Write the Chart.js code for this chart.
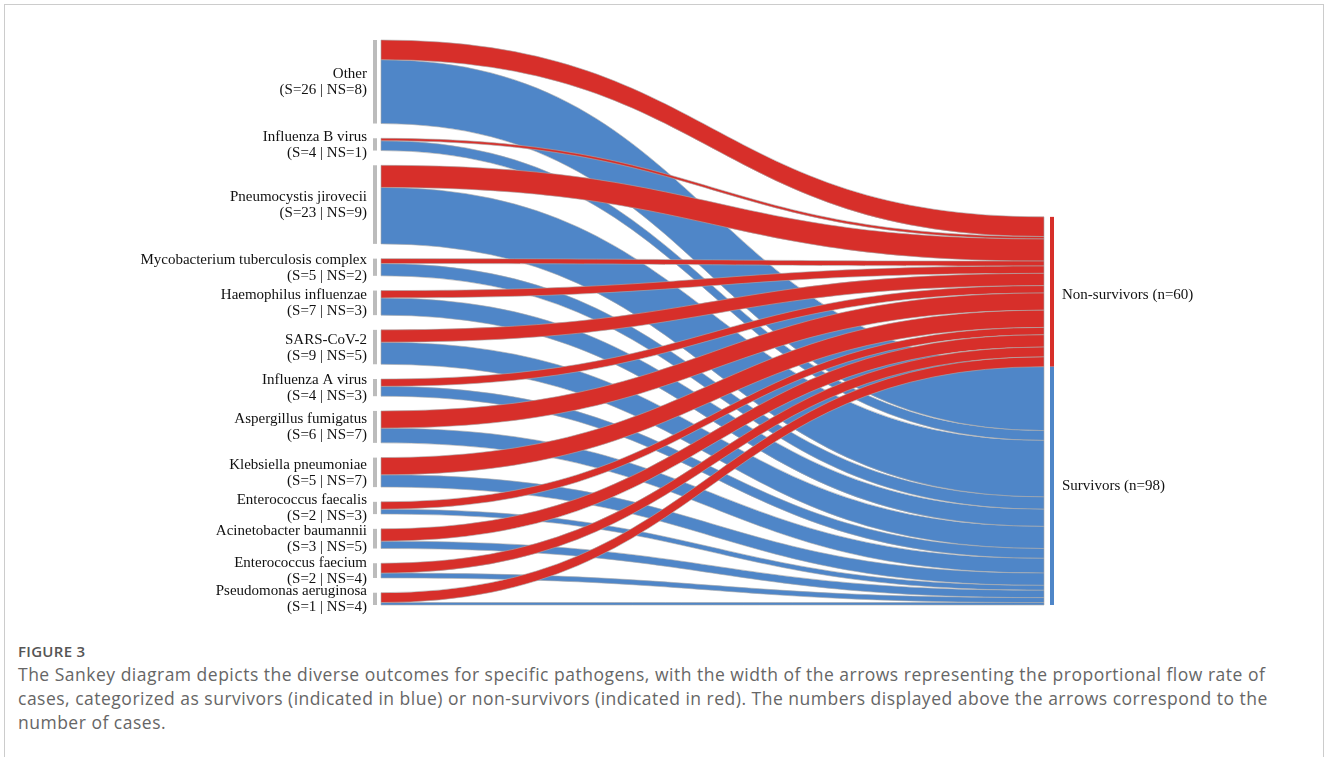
<!DOCTYPE html>
<html>
<head>
<meta charset="utf-8">
<script src="https://cdn.jsdelivr.net/npm/chart.js@4.4.1/dist/chart.umd.min.js"></script>
<style>
  html, body { margin: 0; padding: 0; background: #fff; }
  body { width: 1328px; height: 757px; position: relative; overflow: hidden; }
  #frame { position: absolute; left: 4px; top: 4px; width: 1320px; height: 800px;
           border: 1.5px solid #cccccc; border-bottom: none; box-sizing: border-box; }
  #wrap { position: absolute; left: 0; top: 0; width: 1328px; height: 640px; }
  #caption { position: absolute; left: 18px; top: 640px; font-family: "Open Sans", sans-serif; white-space: nowrap; }
  #caption .fig { font-size: 15px; font-weight: 600; color: #555; line-height: 22px; letter-spacing: 0.3px; }
  #caption .txt { font-size: 17.5px; color: #666; line-height: 24px; letter-spacing: 0.5px; }
</style>
</head>
<body>
<div id="frame"></div>
<div id="wrap"><canvas id="sankey" width="1328" height="640"></canvas></div>
<div id="caption">
  <div class="fig">FIGURE 3</div>
  <div class="txt">The Sankey diagram depicts the diverse outcomes for specific pathogens, with the width of the arrows representing the proportional flow rate of<br>cases, categorized as survivors (indicated in blue) or non-survivors (indicated in red). The numbers displayed above the arrows correspond to the<br>number of cases.</div>
</div>
<script>
// pathogens (left nodes), top to bottom
var pathogens = ['Other', 'Influenza B virus', 'Pneumocystis jirovecii', 'Mycobacterium tuberculosis complex',
  'Haemophilus influenzae', 'SARS-CoV-2', 'Influenza A virus', 'Aspergillus fumigatus',
  'Klebsiella pneumoniae', 'Enterococcus faecalis', 'Acinetobacter baumannii',
  'Enterococcus faecium', 'Pseudomonas aeruginosa'];
var survivors    = [26, 4, 23, 5, 7, 9, 4, 6, 5, 2, 3, 2, 1];
var nonSurvivors = [8, 1, 9, 2, 3, 5, 3, 7, 7, 3, 5, 4, 4];
var outcomeLabels = ['Non-survivors (n=60)', 'Survivors (n=98)'];

var RED = '#d72f2a';
var BLUE = '#4f86c8';
var GAP = 6; // gap between left nodes, in case units

var total = 0;
for (var i = 0; i < pathogens.length; i++) total += survivors[i] + nonSurvivors[i];
var yMax = total + GAP * (pathogens.length - 1);

function flow(ctx, x0, x1, a0, a1, b0, b1, color) {
  var xm = (x0 + x1) / 2;
  ctx.beginPath();
  ctx.moveTo(x0, a0);
  ctx.bezierCurveTo(xm, a0, xm, a1, x1, a1);
  ctx.lineTo(x1, b1);
  ctx.bezierCurveTo(xm, b1, xm, b0, x0, b0);
  ctx.closePath();
  ctx.fillStyle = color;
  ctx.fill();
  ctx.lineWidth = 0.8;
  ctx.strokeStyle = 'rgba(170,170,170,0.75)';
  ctx.stroke();
}

var sankeyPlugin = {
  id: 'sankey',
  afterDatasetsDraw: function (chart) {
    var ctx = chart.ctx;
    var xs = chart.scales.x, ys = chart.scales.y;
    var xL = xs.getPixelForValue(0), xR = xs.getPixelForValue(1);
    var fx0 = xL + 8, fx1 = xR - 10;
    var nsTotal = 0;
    for (var i = 0; i < nonSurvivors.length; i++) nsTotal += nonSurvivors[i];
    var rightTop = yMax - total;

    // left node positions and link positions
    var links = [];
    var cur = 0, nsCur = rightTop, sCur = rightTop + nsTotal;
    var nodes = [];
    for (i = 0; i < pathogens.length; i++) {
      var n = survivors[i] + nonSurvivors[i];
      nodes.push({ top: cur, bot: cur + n });
      links.push({ s0: cur, s1: cur + nonSurvivors[i], t0: nsCur, t1: nsCur + nonSurvivors[i], c: RED });
      links.push({ s0: cur + nonSurvivors[i], s1: cur + n, t0: sCur, t1: sCur + survivors[i], c: BLUE });
      nsCur += nonSurvivors[i];
      sCur += survivors[i];
      cur += n + GAP;
    }

    ctx.save();
    // blue first, red on top
    [BLUE, RED].forEach(function (col) {
      links.forEach(function (l) {
        if (l.c !== col) return;
        flow(ctx, fx0, fx1, ys.getPixelForValue(l.s0), ys.getPixelForValue(l.t0),
             ys.getPixelForValue(l.s1), ys.getPixelForValue(l.t1), col);
      });
    });

    // left nodes + labels
    ctx.font = '15px "Liberation Serif", "Times New Roman", serif';
    ctx.textAlign = 'right';
    ctx.textBaseline = 'middle';
    nodes.forEach(function (nd, k) {
      var y0 = ys.getPixelForValue(nd.top), y1 = ys.getPixelForValue(nd.bot);
      ctx.fillStyle = '#bcbcbc';
      ctx.fillRect(xL, y0, 4, y1 - y0);
      ctx.fillStyle = '#111';
      var yc = (y0 + y1) / 2 + 0.5;
      ctx.fillText(pathogens[k], xL - 6, yc - 8);
      ctx.fillText('(S=' + survivors[k] + ' | NS=' + nonSurvivors[k] + ')', xL - 6, yc + 8);
    });

    // right nodes + labels
    var r0 = ys.getPixelForValue(rightTop), r1 = ys.getPixelForValue(rightTop + nsTotal), r2 = ys.getPixelForValue(yMax);
    ctx.fillStyle = RED;
    ctx.fillRect(xR - 4, r0, 4, r1 - r0);
    ctx.fillStyle = BLUE;
    ctx.fillRect(xR - 4, r1, 4, r2 - r1);
    ctx.fillStyle = '#111';
    ctx.textAlign = 'left';
    ctx.fillText(outcomeLabels[0], xR + 8, (r0 + r1) / 2 + 3);
    ctx.fillText(outcomeLabels[1], xR + 8, (r1 + r2) / 2);
    ctx.restore();
  }
};

new Chart(document.getElementById('sankey').getContext('2d'), {
  type: 'scatter',
  data: { datasets: [{ data: [] }] },
  options: {
    responsive: false,
    animation: false,
    devicePixelRatio: 1,
    layout: { padding: { left: 373, right: 274, top: 40, bottom: 35 } },
    plugins: { legend: { display: false }, tooltip: { enabled: false } },
    scales: {
      x: { type: 'linear', min: 0, max: 1, display: false },
      y: { type: 'linear', min: 0, max: yMax, reverse: true, display: false }
    }
  },
  plugins: [sankeyPlugin]
});
</script>
</body>
</html>
